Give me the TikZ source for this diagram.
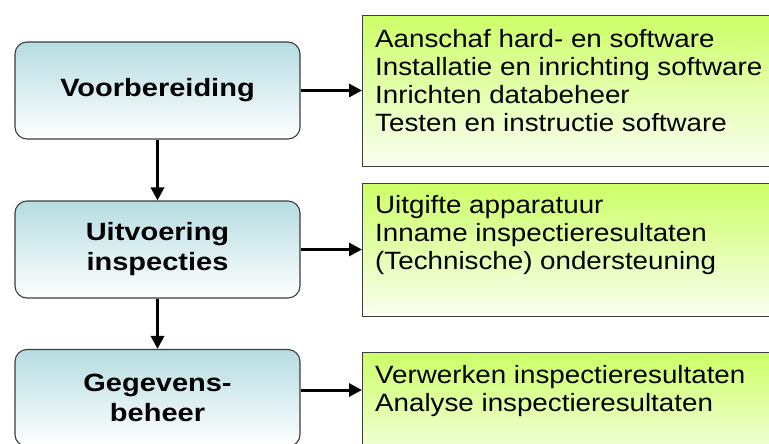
\documentclass[tikz,border=0pt]{standalone}
\usepackage{fontspec}
\setmainfont{Liberation Sans}
\newfontfamily\tasklook[FakeStretch=1.11]{Liberation Sans}
\newfontfamily\steplook[FakeStretch=1.16]{Liberation Sans Bold}
\usetikzlibrary{arrows.meta,positioning}
\definecolor{stepblue}{HTML}{B5DCE1}
\definecolor{taskgreen}{HTML}{CCFF66}
\definecolor{boxline}{HTML}{3C3C3C}
\tikzset{
  stepbox/.style={draw=boxline, line width=1.1pt, rounded corners=12pt,
    top color=stepblue, bottom color=white, minimum width=285pt,
    minimum height=97pt, inner sep=0pt, align=center,
    font=\steplook\fontsize{25}{30}\selectfont},
  taskbox/.style={draw=boxline, line width=1.1pt, top color=taskgreen,
    bottom color=taskgreen!8, minimum width=440pt, anchor=north west,
    inner sep=0pt},
  tasktext/.style={anchor=north west, inner sep=0pt, align=left,
    font=\tasklook\fontsize{25}{28}\selectfont},
  flow/.style={line width=3pt, -{Triangle[length=13pt,width=13pt]}}
}
\begin{document}
\begin{tikzpicture}[x=1pt,y=-1pt]
\useasboundingbox (0,0) rectangle (769,444);
\clip (0,0) rectangle (769,444);

% steps
\node[stepbox] (prep) at (157.5,90.5) {Voorbereiding};
\node[stepbox] (exec) at (157.5,249.5) {Uitvoering\\inspecties};
\node[stepbox] (data) at (157.5,398) {Gegevens-\\beheer};

% tasks
\node[taskbox, minimum height=151pt] (prepTasks) at (362,15) {};
\node[taskbox, minimum height=133pt] (execTasks) at (362,183) {};
\node[taskbox, minimum height=120pt] (dataTasks) at (362,352) {};

\node[tasktext] (prepList) at (375,29) {Aanschaf hard- en software\\
  Installatie en inrichting software\\Inrichten databeheer\\
  Testen en instructie software};
\node[tasktext] (execList) at (375,195) {Uitgifte apparatuur\\
  Inname inspectieresultaten\\(Technische) ondersteuning};
\node[tasktext] (dataList) at (375,365) {Verwerken inspectieresultaten\\
  Analyse inspectieresultaten};

% arrows
\draw[flow] (prep.south) -- (exec.north);
\draw[flow] (exec.south) -- (data.north);
\draw[flow] (prep.east) -- (prep.east -| prepTasks.west);
\draw[flow] (exec.east) -- (exec.east -| execTasks.west);
\draw[flow] ([yshift=8pt]data.east) -- ([yshift=8pt]data.east -| dataTasks.west);
\end{tikzpicture}
\end{document}
